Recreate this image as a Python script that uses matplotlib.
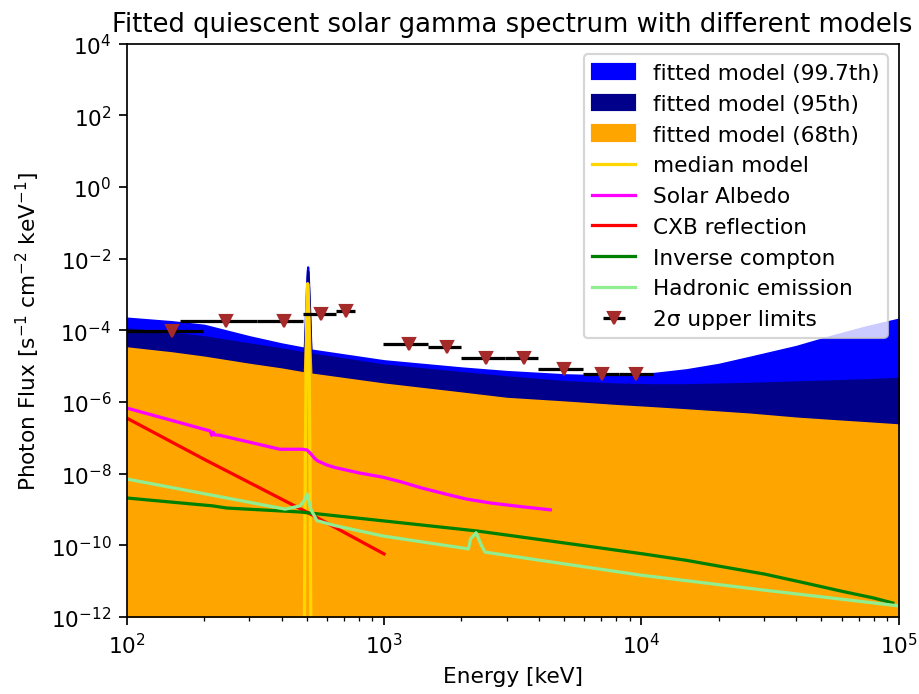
import numpy as np
import matplotlib
matplotlib.use("Agg")
import matplotlib.pyplot as plt

# energia comun de las bandas del modelo ajustado [keV]
energy_band = [100, 150, 200, 300, 400, 490, 495, 500, 503, 505, 507, 510, 515, 520,
               1000, 2000, 3000, 5000, 8000, 11000, 15000, 20000, 26500, 40000, 55700,
               75000, 100000]
# limites superiores de cada banda, en log10(flujo)
band_997_log = [-3.66, -3.76, -3.86, -4.18, -4.38, -4.50, -3.60, -2.80, -2.35, -2.23, -2.35,
                -2.80, -3.60, -4.55, -4.85, -5.05, -5.15, -5.24, -5.28, -5.21, -5.10, -4.95,
                -4.75, -4.45, -4.15, -3.90, -3.69]
band_95_log = [-3.96, -4.08, -4.18, -4.38, -4.52, -4.63, -3.90, -3.00, -2.50, -2.35, -2.50,
               -3.00, -3.90, -4.66, -4.97, -5.18, -5.30, -5.43, -5.50, -5.52, -5.52, -5.50,
               -5.48, -5.44, -5.41, -5.38, -5.34]
band_68_log = [-4.49, -4.63, -4.75, -4.95, -5.08, -5.19, -4.40, -3.40, -2.85, -2.71, -2.85,
               -3.40, -4.40, -5.22, -5.50, -5.75, -5.90, -6.00, -6.10, -6.16, -6.22, -6.28,
               -6.34, -6.45, -6.52, -6.58, -6.64]

# modelo mediano (solo la linea de 511 keV queda dentro del grafico)
energy_median = [100, 480, 490, 495, 500, 503, 505, 507, 510, 515, 520, 530, 100000]
median_log = [-30, -30, -12.8, -7.2, -3.8, -2.9, -2.7, -2.9, -3.8, -7.2, -12.8, -30, -30]

# componentes
energy_albedo = [100, 211, 214, 217, 220, 230, 394, 480, 502, 520, 540, 554, 600, 645, 800,
                 991, 1153, 1400, 1806, 2094, 2600, 3400, 4430]
albedo_log = [-6.17, -6.81, -6.93, -6.85, -6.92, -6.93, -7.32, -7.32, -7.34, -7.45, -7.59,
              -7.65, -7.76, -7.83, -7.98, -8.10, -8.22, -8.40, -8.60, -8.71, -8.82, -8.92, -9.01]

energy_cxb = [100, 200, 500, 1000]
cxb_log = [-6.45, -7.60, -9.07, -10.24]

energy_ic = [100, 216, 245, 472, 1000, 2298, 4430, 10170, 15000, 20000, 30000, 41400, 60000,
             80000, 95000]
ic_log = [-8.68, -8.90, -8.96, -9.07, -9.32, -9.60, -9.88, -10.24, -10.42, -10.58, -10.80,
          -11.02, -11.28, -11.47, -11.61]

energy_had = [100, 413, 472, 490, 502, 520, 548, 645, 991, 2130, 2170, 2280, 2390, 2470,
              4430, 9900, 30000, 100000]
had_log = [-8.15, -8.99, -8.90, -8.75, -8.57, -9.00, -9.31, -9.45, -9.74, -10.10, -9.82, -9.65,
           -10.00, -10.19, -10.46, -10.83, -11.25, -11.69]

# limites superiores 2 sigma
ul_energy = [150, 243, 409, 569, 712, 1251, 1758, 2493, 3505, 5022, 7040, 9560]
ul_lo = [100, 161, 320, 484, 651, 991, 1482, 1991, 2950, 3982, 5940, 8200]
ul_hi = [198, 320, 484, 651, 771, 1482, 1991, 2950, 3982, 5940, 8200, 11120]
ul_log = [-4.03, -3.74, -3.74, -3.55, -3.47, -4.38, -4.47, -4.78, -4.78, -5.09, -5.21, -5.21]


def flujo(lista):
    return 10 ** np.array(lista)


dpi = 155.4
fig = plt.figure(figsize=(919 / dpi, 695 / dpi), dpi=dpi)
ax = fig.add_axes([126.7 / 919, 77 / 695, 771.9 / 919, 573.5 / 695])

piso = 1e-16
ax.fill_between(energy_band, flujo(band_997_log), piso, color='blue', label='fitted model (99.7th)')
ax.fill_between(energy_band, flujo(band_95_log), piso, color='darkblue', label='fitted model (95th)')
ax.fill_between(energy_band, flujo(band_68_log), piso, color='orange', label='fitted model (68th)')
ax.plot(energy_median, flujo(median_log), color='gold', label='median model')
ax.plot(energy_albedo, flujo(albedo_log), color='magenta', label='Solar Albedo')
ax.plot(energy_cxb, flujo(cxb_log), color='red', label='CXB reflection')
ax.plot(energy_ic, flujo(ic_log), color='green', label='Inverse compton')
ax.plot(energy_had, flujo(had_log), color='lightgreen', label='Hadronic emission')

ul_e = np.array(ul_energy)
xerr = [ul_e - np.array(ul_lo), np.array(ul_hi) - ul_e]
ax.errorbar(ul_energy, flujo(ul_log), xerr=xerr, fmt='v', color='brown', ecolor='black',
            label='2σ upper limits')

ax.set_xscale('log')
ax.set_yscale('log')
ax.set_xlim(1e2, 1e5)
ax.set_ylim(1e-12, 1e4)
ax.set_xlabel('Energy [keV]')
ax.set_ylabel(r'Photon Flux [s$^{-1}$ cm$^{-2}$ keV$^{-1}$]')
ax.set_title('Fitted quiescent solar gamma spectrum with different models')
ax.legend(loc='upper right')

fig.savefig('out.png', dpi=dpi)
